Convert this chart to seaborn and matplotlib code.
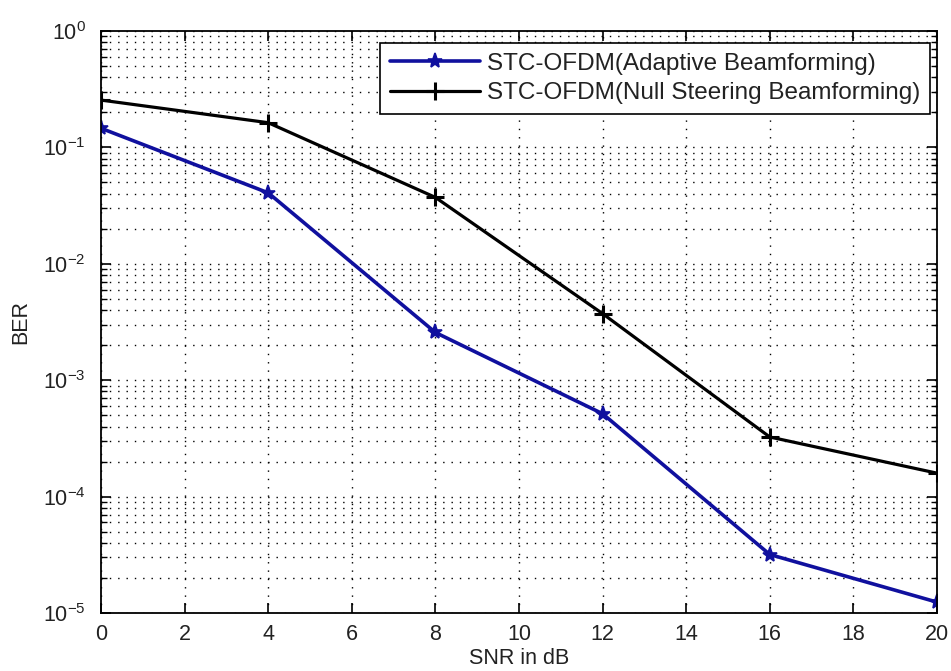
import matplotlib
matplotlib.use("Agg")
import matplotlib.pyplot as plt
import seaborn as sns
import numpy as np
import pandas as pd
from matplotlib.ticker import LogLocator, FixedLocator, NullFormatter

snr_db = [0, 4, 8, 12, 16, 20]
ber_adaptive = [0.146, 0.0407, 0.00257, 0.000515, 3.18e-5, 1.24e-5]
ber_null = [0.255, 0.163, 0.0372, 0.00373, 0.000325, 0.000159]
label_adaptive = "STC-OFDM(Adaptive Beamforming)"
label_null = "STC-OFDM(Null Steering Beamforming)"
x_ticks = [0, 2, 4, 6, 8, 10, 12, 14, 16, 18, 20]

sns.set_theme(style="white")
plt.rcParams["font.family"] = ["Liberation Sans", "DejaVu Sans"]
plt.rcParams["mathtext.fontset"] = "custom"
plt.rcParams["mathtext.rm"] = "Liberation Sans"
plt.rcParams["mathtext.it"] = "Liberation Sans:italic"
plt.rcParams["mathtext.bf"] = "Liberation Sans:bold"
plt.rcParams["mathtext.default"] = "regular"
plt.rcParams["axes.unicode_minus"] = False

df_a = pd.DataFrame({"snr": snr_db, "ber": ber_adaptive})
df_n = pd.DataFrame({"snr": snr_db, "ber": ber_null})

fig = plt.figure(figsize=(9.51, 6.71), dpi=100)
ax = fig.add_axes([101 / 951, 1 - 613 / 671, 836 / 951, 582 / 671])

sns.lineplot(data=df_a, x="snr", y="ber", ax=ax, color="#10109e", linewidth=2.6,
             marker="*", markersize=11, markeredgewidth=1.2, markeredgecolor="#10109e",
             label=label_adaptive)
sns.lineplot(data=df_n, x="snr", y="ber", ax=ax, color="black", linewidth=2.3,
             marker="+", markersize=13, markeredgewidth=2.2, markeredgecolor="black",
             label=label_null)

ax.set_yscale("log")
ax.set_xlim(0, 20)
ax.set_ylim(1e-5, 1)
ax.xaxis.set_major_locator(FixedLocator(x_ticks))
ax.yaxis.set_major_locator(LogLocator(base=10, numticks=10))
ax.yaxis.set_minor_locator(LogLocator(base=10, subs=np.arange(2, 10), numticks=20))
ax.yaxis.set_minor_formatter(NullFormatter())

dots = (0, (1, 5))
ax.grid(True, which="major", axis="both", color="black", linestyle=dots, linewidth=1.0)
ax.grid(True, which="minor", axis="y", color="black", linestyle=dots, linewidth=1.0)
ax.set_axisbelow(True)

ax.tick_params(axis="both", which="major", direction="in", length=7, width=1.2,
               top=True, right=True, bottom=True, left=True,
               labelsize=15.5, labelcolor="#222222", color="black")
ax.tick_params(axis="y", which="major", pad=11)
ax.tick_params(axis="x", which="major", pad=8)
ax.tick_params(axis="y", which="minor", direction="in", length=4, width=1.0,
               left=True, right=True, color="black")
ax.tick_params(axis="x", which="minor", bottom=False, top=False)

for s in ax.spines.values():
    s.set_color("black")
    s.set_linewidth(1.3)
    s.set_visible(True)

ax.set_xlabel("SNR in dB", fontsize=15.5, color="#222222", labelpad=2)
ax.set_ylabel("BER", fontsize=15.5, color="#222222")
ax.yaxis.set_label_coords((31 - 101) / 836, 0.5)

leg = ax.legend(loc="upper right", bbox_to_anchor=(0.9916, 0.9794), borderaxespad=0,
                fontsize=17.5, frameon=True, fancybox=False, framealpha=1,
                edgecolor="black", handlelength=3.7, handletextpad=0.3,
                borderpad=0.4, labelspacing=0.3, numpoints=1)
leg.get_frame().set_linewidth(1.2)
for t in leg.get_texts():
    t.set_color("#222222")

fig.savefig("out.png", dpi=100)
